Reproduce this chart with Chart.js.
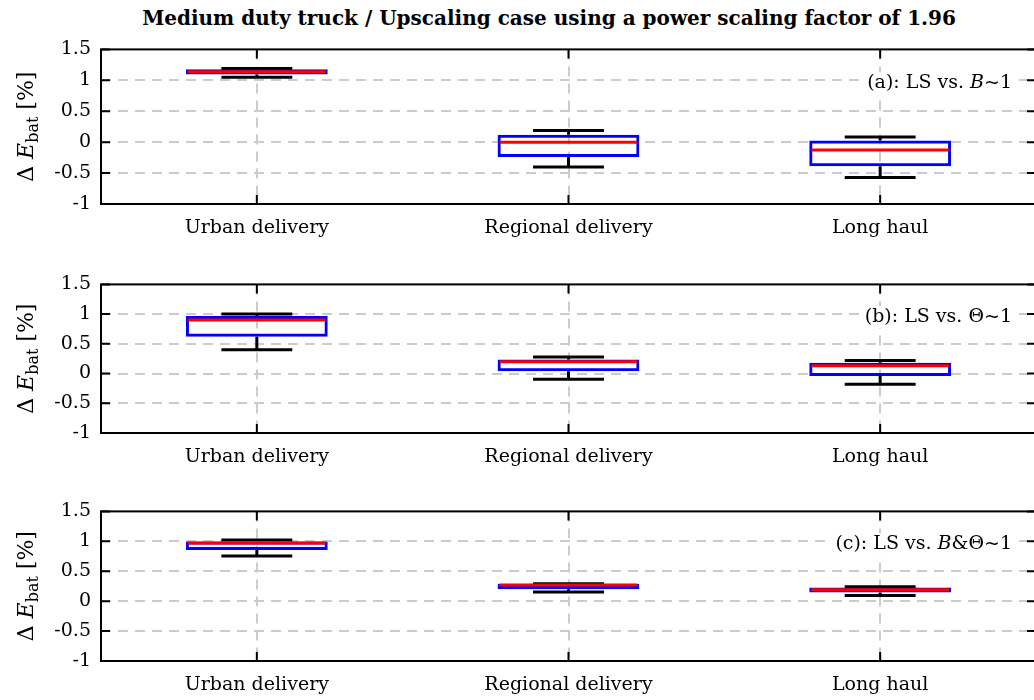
<!DOCTYPE html>
<html>
<head>
<meta charset="utf-8">
<script src="https://cdn.jsdelivr.net/npm/chart.js@4.4.0/dist/chart.umd.min.js"></script>
<style>
  html, body { margin: 0; padding: 0; background: #fff; width: 1034px; height: 700px; overflow: hidden; }
  #title { position: absolute; left: 0; top: 6px; width: 1098px; text-align: center;
           font: bold 20px 'DejaVu Serif', serif; color: #000; white-space: nowrap; }
  canvas.panel { position: absolute; left: 0; }
</style>
</head>
<body>
<div id="title">Medium duty truck / Upscaling case using a power scaling factor of 1.96</div>
<canvas id="panelA" class="panel"></canvas>
<canvas id="panelB" class="panel"></canvas>
<canvas id="panelC" class="panel"></canvas>
<script>
// Drive cycle categories shared by all three panels
const categories = ['Urban delivery', 'Regional delivery', 'Long haul'];
const yTickValues = [-1, -0.5, 0, 0.5, 1, 1.5];

// (a) LS vs. B~1 : lower whisker, first quartile, median, third quartile, upper whisker
const lowA  = [1.05, -0.40, -0.57];
const q1A   = [1.095, -0.24, -0.39];
const medA  = [1.14, 0.00, -0.125];
const q3A   = [1.18, 0.12, 0.025];
const highA = [1.19, 0.19, 0.085];

// (b) LS vs. Θ~1
const lowB  = [0.40, -0.095, -0.18];
const q1B   = [0.62, 0.04, -0.04];
const medB  = [0.90, 0.20, 0.13];
const q3B   = [0.97, 0.235, 0.18];
const highB = [1.00, 0.28, 0.22];

// (c) LS vs. B&Θ~1
const lowC  = [0.755, 0.155, 0.095];
const q1C   = [0.855, 0.20, 0.145];
const medC  = [0.97, 0.27, 0.19];
const q3C   = [0.995, 0.29, 0.23];
const highC = [1.02, 0.29, 0.24];

const FONT = "'DejaVu Serif', serif";

// Draw a run of differently styled text pieces; returns total width
function richWidth(ctx, parts) {
  let w = 0;
  parts.forEach(p => { ctx.font = p.font; w += ctx.measureText(p.text).width; });
  return w;
}
function drawRich(ctx, parts, x, y) {
  let cx = x;
  parts.forEach(p => {
    ctx.font = p.font;
    ctx.fillText(p.text, cx, y + (p.dy || 0));
    cx += ctx.measureText(p.text).width;
  });
}

// Whiskers, medians, axis frame with inward ticks, panel annotation and y-axis title
const boxExtras = {
  id: 'boxExtras',
  beforeDatasetsDraw(chart, args, opts) {
    const { ctx, scales: { x, y } } = chart;
    const meta = chart.getDatasetMeta(0);
    ctx.save();
    ctx.strokeStyle = '#000';
    ctx.lineWidth = 3;
    meta.data.forEach((bar, i) => {
      const cx = x.getPixelForValue(i);
      const half = bar.width / 4;
      const yq1 = y.getPixelForValue(opts.q1[i]);
      const yq3 = y.getPixelForValue(opts.q3[i]);
      const ylo = y.getPixelForValue(opts.low[i]);
      const yhi = y.getPixelForValue(opts.high[i]);
      ctx.beginPath();
      ctx.moveTo(cx, yq3); ctx.lineTo(cx, yhi);
      ctx.moveTo(cx - half, yhi); ctx.lineTo(cx + half, yhi);
      ctx.moveTo(cx, yq1); ctx.lineTo(cx, ylo);
      ctx.moveTo(cx - half, ylo); ctx.lineTo(cx + half, ylo);
      ctx.stroke();
    });
    ctx.restore();
  },
  afterDatasetsDraw(chart, args, opts) {
    const { ctx, scales: { x, y } } = chart;
    const meta = chart.getDatasetMeta(0);
    ctx.save();
    ctx.strokeStyle = '#ff0000';
    ctx.lineWidth = 3;
    meta.data.forEach((bar, i) => {
      const cx = x.getPixelForValue(i);
      const ym = y.getPixelForValue(opts.med[i]);
      ctx.beginPath();
      ctx.moveTo(cx - bar.width / 2 + 2, ym);
      ctx.lineTo(cx + bar.width / 2 - 2, ym);
      ctx.stroke();
    });
    ctx.restore();
  },
  afterDraw(chart, args, opts) {
    const { ctx, chartArea: a, scales: { x, y } } = chart;
    ctx.save();
    // frame
    ctx.strokeStyle = '#000';
    ctx.lineWidth = 2;
    ctx.strokeRect(a.left, a.top, a.right - a.left, a.bottom - a.top);
    // inward tick marks
    const tl = 9;
    ctx.beginPath();
    categories.forEach((c, i) => {
      const px = x.getPixelForValue(i);
      ctx.moveTo(px, a.top); ctx.lineTo(px, a.top + tl);
      ctx.moveTo(px, a.bottom); ctx.lineTo(px, a.bottom - tl);
    });
    yTickValues.forEach(v => {
      const py = y.getPixelForValue(v);
      ctx.moveTo(a.left, py); ctx.lineTo(a.left + tl, py);
      ctx.moveTo(a.right, py); ctx.lineTo(a.right - tl, py);
    });
    ctx.stroke();

    // annotation with white backing
    ctx.textBaseline = 'middle';
    const w = richWidth(ctx, opts.note);
    const right = a.right - 24;
    const ty = y.getPixelForValue(1) + 3;
    ctx.fillStyle = '#fff';
    ctx.fillRect(right - w - 4, ty - 11, w + 8, 22);
    ctx.fillStyle = '#000';
    drawRich(ctx, opts.note, right - w, ty);

    // y-axis title: Δ E_bat [%]
    const label = [
      { text: 'Δ ', font: `22px ${FONT}` },
      { text: 'E', font: `italic 22px ${FONT}` },
      { text: 'bat', font: `16px ${FONT}`, dy: 7 },
      { text: ' [%]', font: `22px ${FONT}` }
    ];
    ctx.translate(27, (a.top + a.bottom) / 2);
    ctx.rotate(-Math.PI / 2);
    const lw = richWidth(ctx, label);
    drawRich(ctx, label, -lw / 2, 0);
    ctx.restore();
  }
};

function makePanel(id, plotTop, plotBottom, low, q1, med, q3, high, note) {
  const padTop = 12, extraTop = 10, xAxisH = 44;
  const canvas = document.getElementById(id);
  canvas.style.top = (plotTop - padTop - extraTop) + 'px';
  const h = plotBottom - plotTop + padTop + extraTop + xAxisH;
  canvas.width = 1040; canvas.height = h;
  canvas.style.width = '1040px'; canvas.style.height = h + 'px';

  return new Chart(canvas, {
    type: 'bar',
    data: {
      labels: categories,
      datasets: [{
        data: categories.map((c, i) => [q1[i], q3[i]]),
        backgroundColor: 'rgba(0,0,0,0)',
        borderColor: '#0000ff',
        borderWidth: 3,
        borderSkipped: false,
        barPercentage: 0.455,
        categoryPercentage: 1
      }]
    },
    options: {
      responsive: false,
      animation: false,
      events: [],
      layout: { padding: { top: padTop, right: 4, bottom: 0, left: 0 } },
      font: { family: FONT },
      plugins: {
        legend: { display: false },
        tooltip: { enabled: false },
        boxExtras: { low, q1, med, q3, high, note }
      },
      scales: {
        x: {
          offset: true,
          grid: {
            offset: false,
            drawTicks: false,
            color: '#cccccc',
            lineWidth: 2
          },
          border: { display: false, dash: [10, 7] },
          ticks: { color: '#000', font: { family: FONT, size: 19 }, padding: 13, maxRotation: 0 },
          afterFit(s) { s.height = xAxisH; }
        },
        y: {
          min: -1, max: 1.5,
          afterBuildTicks(s) { s.ticks = yTickValues.map(v => ({ value: v })); },
          grid: {
            drawTicks: false,
            color: c => (c.tick && (c.tick.value === -1 || c.tick.value === 1.5)) ? 'rgba(0,0,0,0)' : '#cccccc',
            lineWidth: 2
          },
          border: { display: false, dash: [10, 7] },
          ticks: { color: '#000', font: { family: FONT, size: 19 }, padding: 10, callback: v => String(v) },
          afterFit(s) { s.width = 101; }
        }
      }
    },
    plugins: [boxExtras]
  });
}

const serif = `19px ${FONT}`;
const serifIt = `italic 19px ${FONT}`;

makePanel('panelA', 50, 204, lowA, q1A, medA, q3A, highA, [
  { text: '(a): LS vs. ', font: serif }, { text: 'B', font: serifIt }, { text: '~1', font: serif }
]);
makePanel('panelB', 285, 433, lowB, q1B, medB, q3B, highB, [
  { text: '(b): LS vs. Θ~1', font: serif }
]);
makePanel('panelC', 512, 661, lowC, q1C, medC, q3C, highC, [
  { text: '(c): LS vs. ', font: serif }, { text: 'B', font: serifIt }, { text: '&Θ~1', font: serif }
]);
</script>
</body>
</html>
